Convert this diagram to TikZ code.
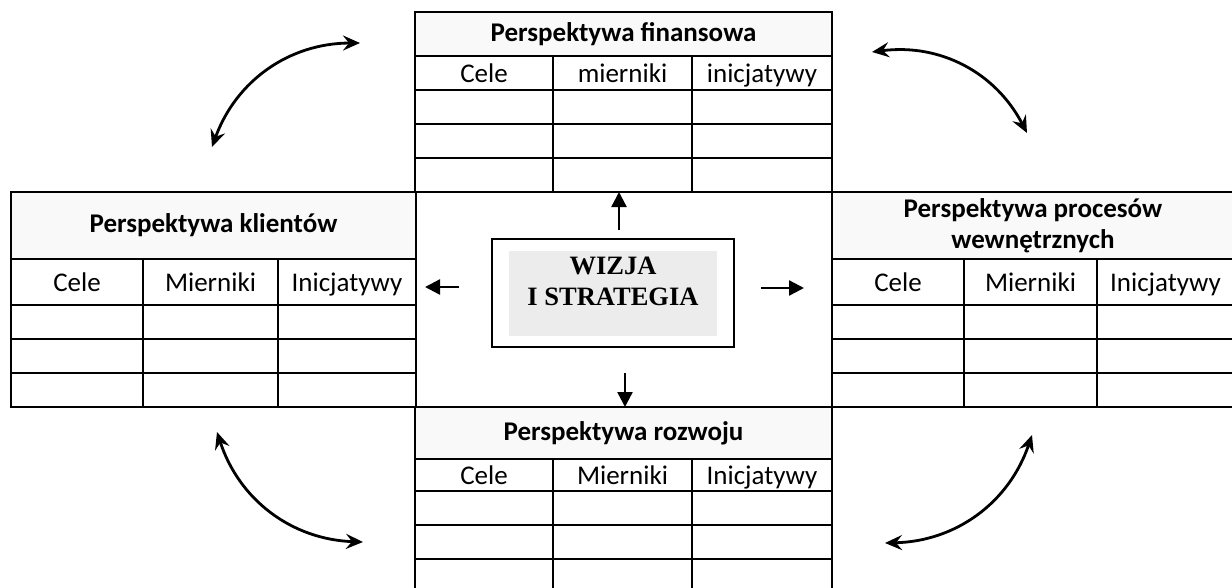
\documentclass[tikz,border=0pt]{standalone}
\usepackage{fontspec}
\setmainfont{Carlito}
\newfontfamily\wizjafont{Liberation Serif}
\usetikzlibrary{arrows.meta,positioning}
\tikzset{
tab/.style={line width=2.8pt},
cell/.style={draw, tab, inner sep=0pt, outer sep=0pt, minimum height=34, anchor=north west, text height=20, text depth=1, font=\fontsize{27}{31}\selectfont},
head/.style={draw, tab, inner sep=0pt, outer sep=0pt, anchor=north west, fill=gray!5, align=center, font=\fontsize{27}{31}\selectfont\bfseries},
arr/.style={-{Triangle[length=15pt,width=15pt]}, line width=2.4pt},
link/.style={{Stealth[length=17pt,width=15pt,inset=6pt]}-{Stealth[length=17pt,width=15pt,inset=6pt]}, line width=2.8pt},
}

\begin{document}
\begin{tikzpicture}[x=1pt, y=-1pt]
        \clip (0,0) rectangle (1232,587);

        % perspektywa finansowa
        \node[head, minimum width=417, minimum height=44] (fin) at (415,12) {Perspektywa finansowa};
        \node[cell, minimum width=138] (fin-cele) at (fin.south west) {Cele};
        \node[cell, minimum width=139] (fin-mier) at (fin-cele.north east) {mierniki};
        \node[cell, minimum width=140] (fin-ini) at (fin-mier.north east) {inicjatywy};
        \foreach \c/\w in {cele/138, mier/139, ini/140}
            \foreach \i in {1,2,3}
                \node[cell, minimum width=\w] (fin-\c\i) at ([yshift={-34*(\i-1)}]fin-\c.south west) {};

        % perspektywa klientow
        \node[head, minimum width=405, minimum height=67] (kl) at (11,192) {Perspektywa klientów};
        \node[cell, minimum width=132, minimum height=46] (kl-cele) at (kl.south west) {Cele};
        \node[cell, minimum width=135, minimum height=46] (kl-mier) at (kl-cele.north east) {Mierniki};
        \node[cell, minimum width=138, minimum height=46] (kl-ini) at (kl-mier.north east) {Inicjatywy};
        \foreach \c/\w in {cele/132, mier/135, ini/138}
            \foreach \i in {1,2,3}
                \node[cell, minimum width=\w] (kl-\c\i) at ([yshift={-34*(\i-1)}]kl-\c.south west) {};

        % perspektywa procesow
        \node[head, minimum width=402, minimum height=67] (pr) at (832,192) {Perspektywa procesów\\wewnętrznych};
        \node[cell, minimum width=132, minimum height=46] (pr-cele) at (pr.south west) {Cele};
        \node[cell, minimum width=133, minimum height=46] (pr-mier) at (pr-cele.north east) {Mierniki};
        \node[cell, minimum width=137, minimum height=46] (pr-ini) at (pr-mier.north east) {Inicjatywy};
        \foreach \c/\w in {cele/132, mier/133, ini/137}
            \foreach \i in {1,2,3}
                \node[cell, minimum width=\w] (pr-\c\i) at ([yshift={-34*(\i-1)}]pr-\c.south west) {};

        % perspektywa rozwoju
        \node[head, minimum width=417, minimum height=52] (rz) at (415,407) {Perspektywa rozwoju};
        \node[cell, minimum width=138, minimum height=32] (rz-cele) at (rz.south west) {Cele};
        \node[cell, minimum width=139, minimum height=32] (rz-mier) at (rz-cele.north east) {Mierniki};
        \node[cell, minimum width=140, minimum height=32] (rz-ini) at (rz-mier.north east) {Inicjatywy};
        \foreach \c/\w in {cele/138, mier/139, ini/140}
            \foreach \i in {1,2,3}
                \node[cell, minimum width=\w] (rz-\c\i) at ([yshift={-34*(\i-1)}]rz-\c.south west) {};

        % wizja i strategia
        \node[draw, line width=1.6pt, minimum width=242, minimum height=108] (wizja) at (613,293) {};
        \node[fill=gray!15, minimum width=208, minimum height=85] (wizja-tlo) at (613,293.5) {};
        \node[font=\wizjafont\bfseries\fontsize{26.5}{31}\selectfont, align=center] (wizja-txt) at (613,281.5) {WIZJA\\I STRATEGIA};

        \draw[arr, shorten <=8pt] ([xshift=6pt]wizja.north) -- ([xshift=6pt]wizja.north |- fin-mier3.south);
        \draw[arr, shorten <=25pt] ([xshift=12pt]wizja.south) -- ([xshift=12pt]wizja.south |- rz.north);
        \draw[arr, shorten <=32pt, shorten >=9pt] ([yshift=6pt]wizja.west) -- ([yshift=6pt]wizja.west -| kl-ini.east);
        \draw[arr, shorten <=26pt, shorten >=28pt] ([yshift=5pt]wizja.east) -- ([yshift=5pt]wizja.east -| pr-cele.west);

        % powiazania
        \coordinate (kl-fin-a) at (212,147);
        \coordinate (kl-fin-b) at (360,43);
        \coordinate (fin-pr-a) at (872,52);
        \coordinate (fin-pr-b) at (1027,133);
        \coordinate (kl-rz-a) at (217,432);
        \coordinate (kl-rz-b) at (363,542);
        \coordinate (rz-pr-a) at (885,543);
        \coordinate (rz-pr-b) at (1032,435);

        \draw[link] (kl-fin-a) to[bend left=35] (kl-fin-b);
        \draw[link] (fin-pr-a) to[bend left=35] (fin-pr-b);
        \draw[link] (kl-rz-a) to[bend right=35] (kl-rz-b);
        \draw[link] (rz-pr-a) to[bend right=35] (rz-pr-b);

    \end{tikzpicture}
\end{document}
